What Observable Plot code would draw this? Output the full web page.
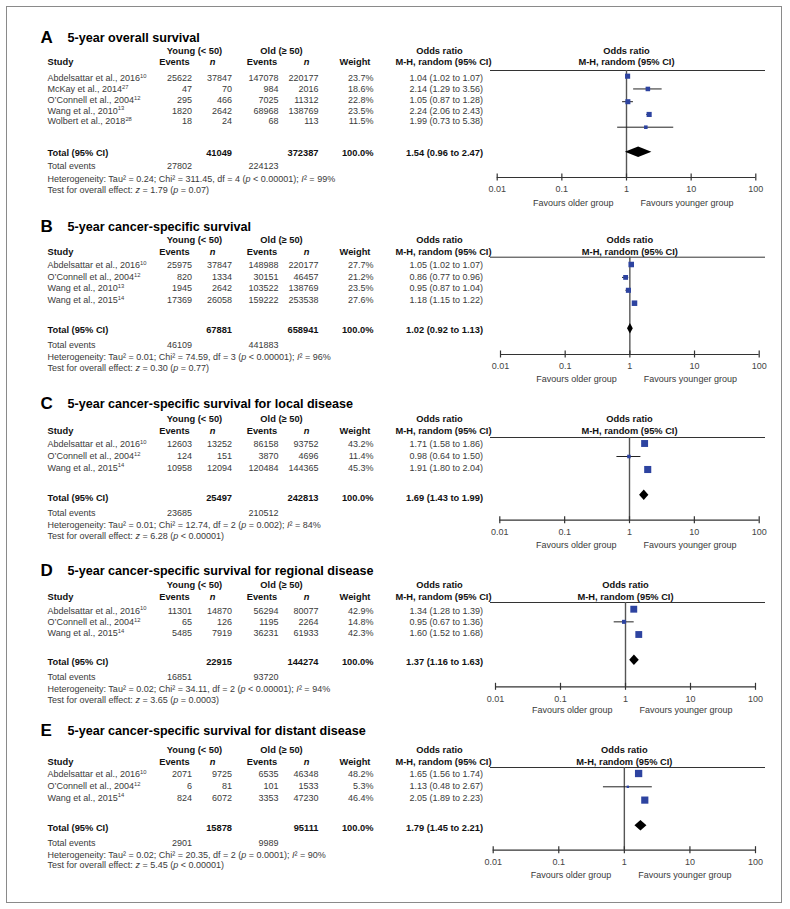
<!DOCTYPE html>
<html>
<head>
<meta charset="utf-8">
<script src="https://cdn.jsdelivr.net/npm/d3@7"></script>
<script src="https://cdn.jsdelivr.net/npm/@observablehq/plot@0.6"></script>
<style>
  body { margin: 0; background: #fff; }
  #fig { position: relative; width: 790px; height: 909px; overflow: hidden; }
  #border { position: absolute; left: 6px; top: 6px; width: 776px; height: 897px; border: 1.5px solid #8a8a8a; box-sizing: border-box; }
</style>
</head>
<body>
<div id="fig"><div id="border"></div></div>
<script>
// ---------------- DATA ----------------
const panelLetters = ["A", "B", "C", "D", "E"];
const panelTitles = [
  "5-year overall survival",
  "5-year cancer-specific survival",
  "5-year cancer-specific survival for local disease",
  "5-year cancer-specific survival for regional disease",
  "5-year cancer-specific survival for distant disease"
];
const studyNames = [
  ["Abdelsattar et al., 2016", "McKay et al., 2014", "O’Connell et al., 2004", "Wang et al., 2010", "Wolbert et al., 2018"],
  ["Abdelsattar et al., 2016", "O’Connell et al., 2004", "Wang et al., 2010", "Wang et al., 2015"],
  ["Abdelsattar et al., 2016", "O’Connell et al., 2004", "Wang et al., 2015"],
  ["Abdelsattar et al., 2016", "O’Connell et al., 2004", "Wang et al., 2015"],
  ["Abdelsattar et al., 2016", "O’Connell et al., 2004", "Wang et al., 2015"]
];
const studyRefs = [["10", "27", "12", "13", "28"], ["10", "12", "13", "14"], ["10", "12", "14"], ["10", "12", "14"], ["10", "12", "14"]];
const youngEvents = [[25622, 47, 295, 1820, 18], [25975, 820, 1945, 17369], [12603, 124, 10958], [11301, 65, 5485], [2071, 6, 824]];
const youngN = [[37847, 70, 466, 2642, 24], [37847, 1334, 2642, 26058], [13252, 151, 12094], [14870, 126, 7919], [9725, 81, 6072]];
const oldEvents = [[147078, 984, 7025, 68968, 68], [148988, 30151, 103522, 159222], [86158, 3870, 120484], [56294, 1195, 36231], [6535, 101, 3353]];
const oldN = [[220177, 2016, 11312, 138769, 113], [220177, 46457, 138769, 253538], [93752, 4696, 144365], [80077, 2264, 61933], [46348, 1533, 47230]];
const weights = [[23.7, 18.6, 22.8, 23.5, 11.5], [27.7, 21.2, 23.5, 27.6], [43.2, 11.4, 45.3], [42.9, 14.8, 42.3], [48.2, 5.3, 46.4]];
const oddsRatio = [[1.04, 2.14, 1.05, 2.24, 1.99], [1.05, 0.86, 0.95, 1.18], [1.71, 0.98, 1.91], [1.34, 0.95, 1.60], [1.65, 1.13, 2.05]];
const ciLow = [[1.02, 1.29, 0.87, 2.06, 0.73], [1.02, 0.77, 0.87, 1.15], [1.58, 0.64, 1.80], [1.28, 0.67, 1.52], [1.56, 0.48, 1.89]];
const ciHigh = [[1.07, 3.56, 1.28, 2.43, 5.38], [1.07, 0.96, 1.04, 1.22], [1.86, 1.50, 2.04], [1.39, 1.36, 1.68], [1.74, 2.67, 2.23]];
const totalYoungN = [41049, 67881, 25497, 22915, 15878];
const totalOldN = [372387, 658941, 242813, 144274, 95111];
const totalYoungEvents = [27802, 46109, 23685, 16851, 2901];
const totalOldEvents = [224123, 441883, 210512, 93720, 9989];
const pooledOR = [1.54, 1.02, 1.69, 1.37, 1.79];
const pooledLow = [0.96, 0.92, 1.43, 1.16, 1.45];
const pooledHigh = [2.47, 1.13, 1.99, 1.63, 2.21];
const tau2 = ["0.24", "0.01", "0.01", "0.02", "0.02"];
const chi2 = ["311.45", "74.59", "12.74", "34.11", "20.35"];
const hetDf = [4, 3, 2, 2, 2];
const hetP = ["< 0.00001", "< 0.00001", "= 0.002", "< 0.00001", "= 0.0001"];
const iSquared = [99, 96, 84, 94, 90];
const zStat = ["1.79", "0.30", "6.28", "3.65", "5.45"];
const zP = ["= 0.07", "= 0.77", "< 0.00001", "= 0.0003", "< 0.00001"];
const axisTicks = [0.01, 0.1, 1, 10, 100];

// ---------------- LAYOUT (page pixels) ----------------
const layouts = [
  {top: 14, bottom: 212, title: 37, h1: 51, h2: 62, line: 70, row0: 77.7, rowStep: 10.85, sq0: 75.7, sqStep: 12.75, total: 153, diamond: 151.7, totEv: 165.5, het: 179, test: 190, axis: 177, fav: 203, x0: 496.7, x1: 755.3},
  {top: 212, bottom: 388, title: 226, h1: 240, h2: 251.7, line: 256.7, row0: 265, rowStep: 11.45, sq0: 264, sqStep: 12.9, total: 329.3, diamond: 328.3, totEv: 345, het: 357, test: 368, axis: 354, fav: 379, x0: 500, x1: 758.7},
  {top: 388, bottom: 556, title: 403, h1: 418.5, h2: 431, line: 437, row0: 443.7, rowStep: 11.8, sq0: 443, sqStep: 13, total: 497.3, diamond: 494.7, totEv: 513, het: 524.7, test: 536, axis: 519.7, fav: 545, x0: 499.3, x1: 758.7},
  {top: 556, bottom: 720, title: 570, h1: 584.5, h2: 596.5, line: 602, row0: 610.3, rowStep: 11.35, sq0: 608.7, sqStep: 12.65, total: 662, diamond: 659.7, totEv: 676.3, het: 689, test: 700, axis: 686.3, fav: 710, x0: 495, x1: 755},
  {top: 720, bottom: 895, title: 730, h1: 749.7, h2: 761.3, line: 767, row0: 773.7, rowStep: 11.8, sq0: 773, sqStep: 13.3, total: 827.3, diamond: 825.3, totEv: 842.3, het: 854.7, test: 864.7, axis: 849.7, fav: 875, x0: 492.7, x1: 755}
];
const ML = 490, MR = 25, W = 790;
const FONT = "'Liberation Sans', Arial, Helvetica, sans-serif";
const TXT = "#3a3a3a", DARK = "#111", BLUE = "#2d43a0";

const f2 = v => v.toFixed(2);
const orText = (o, l, h) => `${f2(o)} (${f2(l)} to ${f2(h)})`;

function richify(svg) {
  const NS = "http://www.w3.org/2000/svg";
  svg.querySelectorAll("text").forEach(t => {
    const s = t.textContent;
    if (!/[{*]/.test(s) || t.querySelector("tspan")) return;
    t.textContent = "";
    let shifted = false;
    s.split(/(\{[^}]*\}|\*[^*]*\*)/).filter(x => x).forEach(part => {
      const ts = document.createElementNS(NS, "tspan");
      if (part[0] === "{") {
        ts.textContent = part.slice(1, -1);
        ts.setAttribute("font-size", "5.8");
        ts.setAttribute("dy", "-3.2");
        shifted = true;
      } else {
        if (shifted) { ts.setAttribute("dy", "3.2"); shifted = false; }
        if (part[0] === "*") { ts.textContent = part.slice(1, -1); ts.setAttribute("font-style", "italic"); }
        else ts.textContent = part;
      }
      t.appendChild(ts);
    });
  });
}

const fig = document.getElementById("fig");

layouts.forEach((ly, p) => {
  const H = ly.bottom - ly.top;
  const rows = studyNames[p].map((s, i) => ({
    name: `${s}{${studyRefs[p][i]}}`,
    ye: String(youngEvents[p][i]), yn: String(youngN[p][i]),
    oe: String(oldEvents[p][i]), on: String(oldN[p][i]),
    w: weights[p][i], wt: weights[p][i].toFixed(1) + "%",
    or: oddsRatio[p][i], lo: ciLow[p][i], hi: ciHigh[p][i],
    ort: orText(oddsRatio[p][i], ciLow[p][i], ciHigh[p][i]),
    ty: ly.row0 + i * ly.rowStep,
    sy: ly.sq0 + i * ly.sqStep
  }));
  const diamond = [
    {x: pooledLow[p], y1: ly.diamond, y2: ly.diamond},
    {x: pooledOR[p], y1: ly.diamond - 5.2, y2: ly.diamond + 5.2},
    {x: pooledHigh[p], y1: ly.diamond, y2: ly.diamond}
  ];

  // a label at page position (x, y), anchored to the frame's left edge
  const lbl = (y, x, text, o = {}) => Plot.text([text], {
    y: () => y, text: d => d, frameAnchor: "left", dx: x - ML,
    fontSize: 9, fill: TXT, textAnchor: "start", ...o
  });
  const col = (x, text, o = {}) => Plot.text(rows, {
    y: "ty", text, frameAnchor: "left", dx: x - ML,
    fontSize: 9, fill: TXT, textAnchor: "end", ...o
  });
  const B = {fontWeight: "bold", fill: DARK, fontSize: 9.3};

  const plot = Plot.plot({
    width: W, height: H,
    marginLeft: ML, marginRight: MR, marginTop: 0, marginBottom: ly.bottom - ly.axis,
    style: {fontFamily: FONT, background: "transparent", overflow: "visible"},
    x: {type: "log", domain: [0.01, 100], range: [ly.x0, ly.x1]},
    y: {domain: [ly.top, ly.bottom], range: [0, H], axis: null},
    r: {domain: [0, 50], range: [0, 4.2]},
    marks: [
      // panel title
      lbl(ly.title, 40, panelLetters[p], {fontSize: 17, fontWeight: "bold", fill: "#000"}),
      lbl(ly.title, 67, panelTitles[p], {fontSize: 12.6, fontWeight: "bold", fill: "#000"}),
      // column headers
      lbl(ly.h1, 194, "Young (< 50)", {...B, textAnchor: "middle"}),
      lbl(ly.h1, 281, "Old (≥ 50)", {...B, textAnchor: "middle"}),
      lbl(ly.h1, 439, "Odds ratio", {...B, textAnchor: "middle"}),
      lbl(ly.h2, 47, "Study", B),
      lbl(ly.h2, 174, "Events", {...B, textAnchor: "middle"}),
      lbl(ly.h2, 212, "n", {...B, textAnchor: "middle", fontStyle: "italic"}),
      lbl(ly.h2, 261.5, "Events", {...B, textAnchor: "middle"}),
      lbl(ly.h2, 306, "n", {...B, textAnchor: "middle", fontStyle: "italic"}),
      lbl(ly.h2, 354.5, "Weight", {...B, textAnchor: "middle"}),
      lbl(ly.h2, 443, "M-H, random (95% CI)", {...B, textAnchor: "middle"}),
      Plot.text(["Odds ratio"], {x: () => 1, y: () => ly.h1, text: d => d, ...B}),
      Plot.text(["M-H, random (95% CI)"], {x: () => 1, y: () => ly.h2, text: d => d, ...B}),
      Plot.ruleY([ly.line], {stroke: "#333", strokeWidth: 1}),
      // study rows
      col(47, "name", {textAnchor: "start"}),
      col(191.5, "ye"),
      col(231.5, "yn"),
      col(278, "oe"),
      col(318, "on"),
      col(373, "wt"),
      col(482.5, "ort"),
      // totals
      lbl(ly.total, 47, "Total (95% CI)", B),
      lbl(ly.total, 231.5, String(totalYoungN[p]), {...B, textAnchor: "end"}),
      lbl(ly.total, 318, String(totalOldN[p]), {...B, textAnchor: "end"}),
      lbl(ly.total, 373, "100.0%", {...B, textAnchor: "end"}),
      lbl(ly.total, 482.5, orText(pooledOR[p], pooledLow[p], pooledHigh[p]), {...B, textAnchor: "end"}),
      lbl(ly.totEv, 47, "Total events"),
      lbl(ly.totEv, 191.5, String(totalYoungEvents[p]), {textAnchor: "end"}),
      lbl(ly.totEv, 278, String(totalOldEvents[p]), {textAnchor: "end"}),
      lbl(ly.het, 47, `Heterogeneity: Tau² = ${tau2[p]}; Chi² = ${chi2[p]}, df = ${hetDf[p]} (*p* ${hetP[p]}); *I*² = ${iSquared[p]}%`),
      lbl(ly.test, 47, `Test for overall effect: *z* = ${zStat[p]} (*p* ${zP[p]})`),
      // forest plot
      Plot.ruleX([1], {y1: () => ly.line, y2: () => ly.axis, stroke: "#555", strokeWidth: 1.4}),
      Plot.ruleY(rows, {x1: "lo", x2: "hi", y: "sy", stroke: "#222", strokeWidth: 1}),
      Plot.dot(rows, {x: "or", y: "sy", r: "w", symbol: "square", fill: BLUE, stroke: null}),
      Plot.areaY(diamond, {x: "x", y1: "y1", y2: "y2", fill: "#000"}),
      Plot.ruleY([ly.axis], {x1: () => 0.01, x2: () => 100, stroke: "#333", strokeWidth: 1.2}),
      Plot.ruleX(axisTicks, {x: d => d, y1: () => ly.axis - 3.5, y2: () => ly.axis + 3.5, stroke: "#333", strokeWidth: 1.2}),
      Plot.axisX(axisTicks, {anchor: "bottom", tickSize: 0, tickPadding: 8.5, tickFormat: d => String(d), fontSize: 9, color: "#444"}),
      Plot.text(["Favours older group"], {x: () => 1, y: () => ly.fav, text: d => d, dx: -13, textAnchor: "end", fontSize: 9, fill: TXT}),
      Plot.text(["Favours younger group"], {x: () => 1, y: () => ly.fav, text: d => d, dx: 14, textAnchor: "start", fontSize: 9, fill: TXT})
    ]
  });
  richify(plot);
  plot.style.position = "absolute";
  plot.style.left = "0px";
  plot.style.top = ly.top + "px";
  fig.appendChild(plot);
});
</script>
</body>
</html>
